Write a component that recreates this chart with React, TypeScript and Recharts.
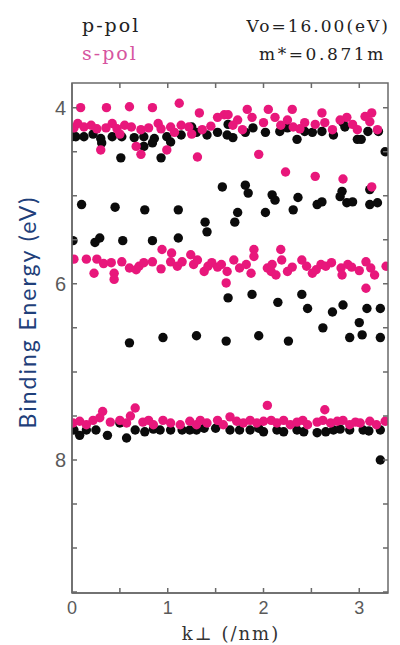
import React from 'react';
import { ScatterChart, Scatter, XAxis, YAxis } from 'recharts';

// ---- axis ticks ----
const xTicks = [0, 0.5, 1, 1.5, 2, 2.5, 3];
const xLabels = [0, 1, 2, 3];
const yTicks = [4, 4.5, 5, 5.5, 6, 6.5, 7, 7.5, 8, 8.5, 9, 9.5];
const yLabels = [4, 6, 8];
const xDomain = [0, 3.3];
const yDomain = [3.72, 9.51];

// ---- p-pol (black) : [k⊥ (/nm), binding energy (eV)] ----
const pTop = [
  [0.0, 4.33], [0.04, 4.33], [0.125, 4.33], [0.22, 4.3], [0.3, 4.35], [0.42, 4.33], [0.52, 4.33],
  [0.65, 4.34], [0.75, 4.33], [0.86, 4.35], [0.99, 4.33], [1.14, 4.31], [1.3, 4.28], [1.41, 4.31],
  [1.52, 4.28], [1.62, 4.31], [1.25, 4.22], [0.31, 4.4], [0.51, 4.57], [0.75, 4.44], [0.84, 4.4],
  [0.93, 4.57], [1.03, 4.39], [1.63, 4.19], [1.68, 4.34], [1.81, 4.28], [1.89, 4.23], [2.02, 4.28],
  [2.17, 4.27], [2.25, 4.23], [2.35, 4.36], [2.43, 4.27], [2.51, 4.28], [2.61, 4.27], [2.73, 4.31],
  [2.83, 4.17], [2.85, 4.22], [2.98, 4.36], [3.02, 4.36], [3.09, 4.27], [3.2, 4.27], [3.27, 4.5],
];
const pMid = [
  [1.57, 4.9], [1.81, 4.88], [1.84, 4.97], [2.09, 4.99], [2.12, 5.05], [2.36, 5.02], [2.82, 4.95],
  [2.8, 5.01], [3.11, 4.93], [2.56, 5.1], [2.61, 5.07], [2.87, 5.08], [2.93, 5.07], [3.11, 5.1],
  [3.19, 5.08], [0.1, 5.1], [0.45, 5.13], [0.76, 5.16], [1.11, 5.16], [1.39, 5.3], [1.41, 5.41],
  [1.73, 5.19], [1.7, 5.3], [2.02, 5.19], [2.31, 5.16], [0.01, 5.51], [0.24, 5.53], [0.29, 5.48],
  [0.53, 5.51], [0.84, 5.51], [1.11, 5.48], [1.63, 6.16], [1.88, 6.12], [2.15, 6.21], [2.4, 6.12],
  [2.46, 6.28], [2.72, 6.32], [2.83, 6.24], [3.08, 6.28], [3.22, 6.28], [2.62, 6.5], [3.0, 6.44],
  [2.9, 6.61], [3.03, 6.58], [3.22, 6.61], [0.6, 6.67], [0.95, 6.61], [1.3, 6.59], [1.61, 6.65],
  [1.95, 6.59], [2.26, 6.65],
];
const pLow = [
  [0.02, 7.66], [0.08, 7.72], [0.15, 7.66], [0.25, 7.66], [0.37, 7.72], [0.5, 7.58], [0.57, 7.75],
  [0.66, 7.66], [0.76, 7.68], [0.85, 7.65], [0.92, 7.66], [1.03, 7.66], [1.15, 7.66], [1.23, 7.66],
  [1.3, 7.66], [1.38, 7.64], [1.5, 7.64], [1.65, 7.66], [1.75, 7.66], [1.86, 7.66], [1.95, 7.64],
  [2.0, 7.68], [2.14, 7.66], [2.21, 7.68], [2.35, 7.66], [2.42, 7.68], [2.56, 7.69], [2.65, 7.68],
  [2.73, 7.66], [2.8, 7.65], [2.9, 7.66], [3.04, 7.66], [3.1, 7.67], [3.22, 7.66], [3.22, 8.0],
];

// ---- s-pol (pink) ----
const sTop = [
  [0.09, 4.0], [0.36, 4.0], [0.6, 3.99], [0.84, 4.0], [1.12, 3.95], [1.33, 4.06], [1.52, 4.11],
  [1.59, 4.08], [0.02, 4.23], [0.06, 4.18], [0.125, 4.22], [0.2, 4.2], [0.26, 4.24], [0.355, 4.23],
  [0.42, 4.18], [0.47, 4.24], [0.55, 4.2], [0.62, 4.22], [0.72, 4.25], [0.8, 4.23], [0.9, 4.18],
  [0.93, 4.24], [1.03, 4.22], [1.07, 4.28], [1.14, 4.2], [1.22, 4.22], [1.25, 4.3], [1.36, 4.25],
  [1.45, 4.21], [0.5, 4.3], [0.3, 4.48], [0.67, 4.44], [0.72, 4.53], [0.99, 4.48], [1.31, 4.56],
  [1.83, 4.02], [2.05, 4.02], [2.3, 4.02], [2.61, 4.06], [3.13, 4.06], [1.63, 4.08], [1.73, 4.14],
  [1.88, 4.11], [2.0, 4.17], [2.12, 4.11], [2.25, 4.14], [2.31, 4.22], [2.43, 4.17], [2.54, 4.19],
  [2.64, 4.17], [2.72, 4.25], [2.87, 4.11], [2.93, 4.19], [2.98, 4.25], [3.11, 4.16], [3.19, 4.25],
  [1.68, 4.2], [1.78, 4.25], [2.18, 4.2], [2.38, 4.24], [2.8, 4.14], [3.06, 4.1], [1.95, 4.53],
  [2.23, 4.73], [2.54, 4.78], [2.83, 4.81], [3.13, 4.9],
];
const sMid = [
  [0.02, 5.72], [0.15, 5.72], [0.26, 5.72], [0.23, 5.88], [0.33, 5.77], [0.41, 5.76], [0.44, 5.88],
  [0.44, 5.95], [0.52, 5.75], [0.6, 5.82], [0.67, 5.84], [0.7, 5.8], [0.75, 5.76], [0.84, 5.75],
  [0.93, 5.83], [0.94, 5.61], [1.04, 5.65], [1.03, 5.75], [1.1, 5.8], [1.15, 5.75], [1.24, 5.67],
  [1.27, 5.78], [1.31, 5.73], [1.38, 5.86], [1.42, 5.8], [1.46, 5.76], [1.52, 5.81], [1.56, 5.78],
  [1.62, 5.86], [1.61, 5.99], [1.69, 5.73], [1.75, 5.82], [1.82, 5.78], [1.87, 5.88], [1.9, 5.61],
  [1.9, 5.69], [2.04, 5.82], [2.08, 5.86], [2.09, 5.78], [2.13, 5.9], [2.18, 5.61], [2.19, 5.73],
  [2.25, 5.86], [2.3, 5.81], [2.4, 5.73], [2.45, 5.8], [2.51, 5.88], [2.55, 5.84], [2.6, 5.78],
  [2.65, 5.8], [2.71, 5.76], [2.81, 5.82], [2.82, 5.9], [2.88, 5.78], [2.92, 5.81], [3.0, 5.85],
  [3.07, 5.75], [3.12, 5.82], [3.16, 5.9], [3.07, 6.05], [3.28, 5.8],
];
const sLow = [
  [0.01, 7.58], [0.08, 7.56], [0.15, 7.6], [0.22, 7.55], [0.29, 7.52], [0.32, 7.45], [0.4, 7.57],
  [0.5, 7.55], [0.57, 7.58], [0.61, 7.5], [0.66, 7.41], [0.74, 7.57], [0.8, 7.55], [0.85, 7.6],
  [0.95, 7.55], [1.03, 7.58], [1.13, 7.6], [1.23, 7.56], [1.3, 7.6], [1.34, 7.55], [1.41, 7.58],
  [1.52, 7.55], [1.58, 7.6], [1.65, 7.51], [1.72, 7.56], [1.79, 7.58], [1.86, 7.55], [1.93, 7.58],
  [2.04, 7.38], [2.0, 7.56], [2.08, 7.55], [2.14, 7.58], [2.21, 7.55], [2.28, 7.6], [2.35, 7.57],
  [2.41, 7.55], [2.46, 7.6], [2.56, 7.57], [2.64, 7.43], [2.62, 7.55], [2.7, 7.58], [2.77, 7.56],
  [2.83, 7.55], [2.9, 7.6], [2.96, 7.57], [3.01, 7.58], [3.11, 7.56], [3.18, 7.6], [3.27, 7.56],
];

const toRows = (arr: number[][]) => arr.map(([x, y]) => ({ x, y }));
const pData = toRows([...pTop, ...pMid, ...pLow]);
const sData = toRows([...sTop, ...sMid, ...sLow]);

// ---- layout ----
const CHART_W = 400;
const CHART_H = 645;
const MARGIN = { top: 83, right: 12, bottom: 0, left: 0 };
const Y_AXIS_W = 72;
const X_AXIS_H = 52;
const PLOT_L = MARGIN.left + Y_AXIS_W;
const PLOT_T = MARGIN.top;
const PLOT_W = CHART_W - MARGIN.left - MARGIN.right - Y_AXIS_W;
const PLOT_H = CHART_H - MARGIN.top - MARGIN.bottom - X_AXIS_H;
const PLOT_R = PLOT_L + PLOT_W;
const PLOT_B = PLOT_T + PLOT_H;

const AXIS = '#6a6a6a';
const BLACK = '#0b0b0b';
const PINK = '#e8177b';
const TICK_FONT = '"Liberation Sans", Arial, sans-serif';
const TL = 5;
const SW = 1.5;

// same linear mapping as the chart's axes (for the frame ticks only)
const xPx = (v: number) => PLOT_L + ((v - xDomain[0]) / (xDomain[1] - xDomain[0])) * PLOT_W;
const yPx = (v: number) => PLOT_T + ((v - yDomain[0]) / (yDomain[1] - yDomain[0])) * PLOT_H;

const framePath =
  `M${PLOT_L},${PLOT_T} H${PLOT_R} V${PLOT_B} H${PLOT_L} Z ` +
  xTicks
    .map((t) => {
      const x = xPx(t);
      return `M${x},${PLOT_B} V${PLOT_B - TL} M${x},${PLOT_T} V${PLOT_T + TL}`;
    })
    .join(' ') +
  ' ' +
  yTicks
    .map((t) => {
      const y = yPx(t);
      return `M${PLOT_L},${y} H${PLOT_L + TL} M${PLOT_R},${y} H${PLOT_R - TL}`;
    })
    .join(' ');

const BottomTick = (p: any) => {
  const { x, y, payload } = p;
  const v = payload.value;
  if (!xLabels.includes(v)) return <g />;
  return (
    <text x={x} y={y + 21} textAnchor="middle" fontFamily={TICK_FONT} fontSize={18} fill="#5a5a5a">
      {v}
    </text>
  );
};
const LeftTick = (p: any) => {
  const { x, y, payload } = p;
  const v = payload.value;
  if (!yLabels.includes(v)) return <g />;
  return (
    <text x={x - 6} y={y + 7} textAnchor="end" fontFamily={TICK_FONT} fontSize={20} fill="#5a5a5a">
      {v}
    </text>
  );
};

const Dot = (color: string) => (props: any) => (
  <circle cx={props.cx} cy={props.cy} r={4.7} fill={color} />
);

const axisLine = { stroke: AXIS, strokeWidth: SW };
const SERIF = '"DejaVu Serif", "Liberation Serif", serif';

export default function App() {
  return (
    <div style={{ position: 'fixed', left: 0, top: 0, width: CHART_W, height: CHART_H, background: '#fff' }}>
      <ScatterChart width={CHART_W} height={CHART_H} margin={MARGIN}>
        <XAxis
          type="number" dataKey="x" domain={xDomain} ticks={xTicks} interval={0}
          orientation="bottom" height={X_AXIS_H} tickSize={0} tickMargin={0} tickLine={false}
          axisLine={axisLine} tick={<BottomTick />} allowDataOverflow
        />
        <YAxis
          type="number" dataKey="y" domain={yDomain} ticks={yTicks} interval={0} reversed
          orientation="left" width={Y_AXIS_W} tickSize={0} tickMargin={0} tickLine={false}
          axisLine={axisLine} tick={<LeftTick />} allowDataOverflow
        />
        <Scatter name="p-pol" data={pData} shape={Dot(BLACK)} isAnimationActive={false} />
        <Scatter name="s-pol" data={sData} shape={Dot(PINK)} isAnimationActive={false} />
      </ScatterChart>
      <svg width={CHART_W} height={CHART_H} style={{ position: 'absolute', left: 0, top: 0, pointerEvents: 'none' }}>
        <path d={framePath} fill="none" stroke={AXIS} strokeWidth={SW} />
        <text x={82} y={32} fontFamily={SERIF} fontSize={19} letterSpacing={2} fill="#222">p-pol</text>
        <text x={82} y={60} fontFamily={SERIF} fontSize={19} letterSpacing={2} fill="#d6559f">s-pol</text>
        <text x={390} y={32} textAnchor="end" fontFamily={SERIF} fontSize={17} letterSpacing={2} fill="#222">Vo=16.00(eV)</text>
        <text x={386} y={60} textAnchor="end" fontFamily={SERIF} fontSize={17} letterSpacing={2.6} fill="#222">m*=0.871m</text>
        <text x={231} y={640} textAnchor="middle" fontFamily={SERIF} fontSize={18} letterSpacing={2} fill="#333">k⊥ (/nm)</text>
        <text
          transform="translate(36,312) rotate(-90)" textAnchor="middle" letterSpacing={2}
          fontFamily="Lato, 'Noto Sans', sans-serif" fontSize={23} fill="#1f3f7a"
        >
          Binding Energy (eV)
        </text>
      </svg>
    </div>
  );
}
